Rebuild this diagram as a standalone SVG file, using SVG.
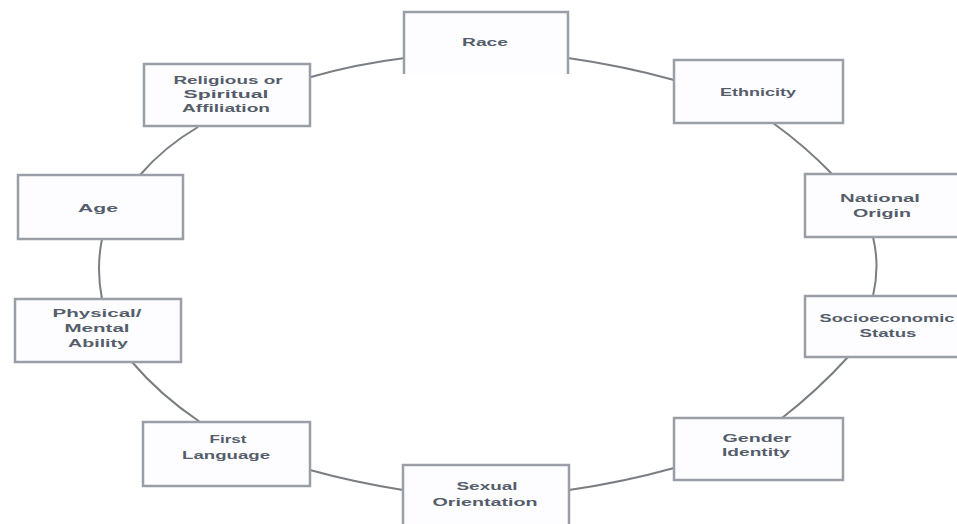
<svg xmlns="http://www.w3.org/2000/svg" width="957" height="524" viewBox="0 0 957 524">
<style>
.box{fill:#fdfdff;stroke:#9a9ea6;stroke-width:2.5}
.t{font-family:"Liberation Sans",Arial,sans-serif;font-weight:bold;font-size:11.5px;fill:#555d6b;text-anchor:middle}
.c{fill:none;stroke:#7a7d82;stroke-width:2}
</style>
<rect width="957" height="524" fill="#ffffff"/>
<g id="connectors">
<path class="c" d="M311,77 Q356,64 405,58"/>
<path class="c" d="M568,58 Q624,66 674,80"/>
<path class="c" d="M773,123 Q805,146 832,174"/>
<path class="c" d="M873,237 Q880,266 873,296"/>
<path class="c" d="M848,357 Q818,390 782,418"/>
<path class="c" d="M674,468 Q624,482 569,490"/>
<path class="c" d="M403,490 Q353,482 310,470"/>
<path class="c" d="M200,422 Q160,395 132,362"/>
<path class="c" d="M102,299 Q96,269 102,239"/>
<path class="c" d="M140,175 Q164,147 198,127"/>
</g>
<g id="race"><path class="box" d="M404,74 V12 H568 V74"/><text class="t" x="485" y="46" textLength="46" lengthAdjust="spacingAndGlyphs">Race</text></g>
<g id="religious"><rect class="box" x="144" y="64" width="166" height="62"/>
<text class="t" x="228" y="84" textLength="109" lengthAdjust="spacingAndGlyphs">Religious or</text>
<text class="t" x="226" y="98" textLength="85" lengthAdjust="spacingAndGlyphs">Spiritual</text>
<text class="t" x="226" y="112" textLength="88" lengthAdjust="spacingAndGlyphs">Affiliation</text></g>
<g id="ethnicity"><rect class="box" x="674" y="60" width="169" height="63"/><text class="t" x="758" y="96" textLength="76" lengthAdjust="spacingAndGlyphs">Ethnicity</text></g>
<g id="national"><rect class="box" x="805" y="174" width="160" height="63"/>
<text class="t" x="880" y="202" textLength="80" lengthAdjust="spacingAndGlyphs">National</text>
<text class="t" x="882" y="217" textLength="58" lengthAdjust="spacingAndGlyphs">Origin</text></g>
<g id="age"><rect class="box" x="18" y="175" width="165" height="64"/><text class="t" x="98" y="212" textLength="40" lengthAdjust="spacingAndGlyphs">Age</text></g>
<g id="physical"><rect class="box" x="15" y="299" width="166" height="63"/>
<text class="t" x="97" y="317" textLength="89" lengthAdjust="spacingAndGlyphs">Physical/</text>
<text class="t" x="97" y="332" textLength="65" lengthAdjust="spacingAndGlyphs">Mental</text>
<text class="t" x="98" y="347" textLength="60" lengthAdjust="spacingAndGlyphs">Ability</text></g>
<g id="socioeconomic"><rect class="box" x="805" y="296" width="160" height="61"/>
<text class="t" x="887" y="322" textLength="135" lengthAdjust="spacingAndGlyphs">Socioeconomic</text>
<text class="t" x="888" y="337" textLength="57" lengthAdjust="spacingAndGlyphs">Status</text></g>
<g id="gender"><rect class="box" x="674" y="418" width="169" height="62"/>
<text class="t" x="757" y="442" textLength="69" lengthAdjust="spacingAndGlyphs">Gender</text>
<text class="t" x="756" y="456" textLength="68" lengthAdjust="spacingAndGlyphs">Identity</text></g>
<g id="firstlanguage"><rect class="box" x="143" y="422" width="167" height="64"/>
<text class="t" x="228" y="443" textLength="37" lengthAdjust="spacingAndGlyphs">First</text>
<text class="t" x="226" y="459" textLength="88" lengthAdjust="spacingAndGlyphs">Language</text></g>
<g id="sexual"><rect class="box" x="403" y="465" width="166" height="70"/>
<text class="t" x="487" y="490" textLength="61" lengthAdjust="spacingAndGlyphs">Sexual</text>
<text class="t" x="485" y="506" textLength="105" lengthAdjust="spacingAndGlyphs">Orientation</text></g>
</svg>
